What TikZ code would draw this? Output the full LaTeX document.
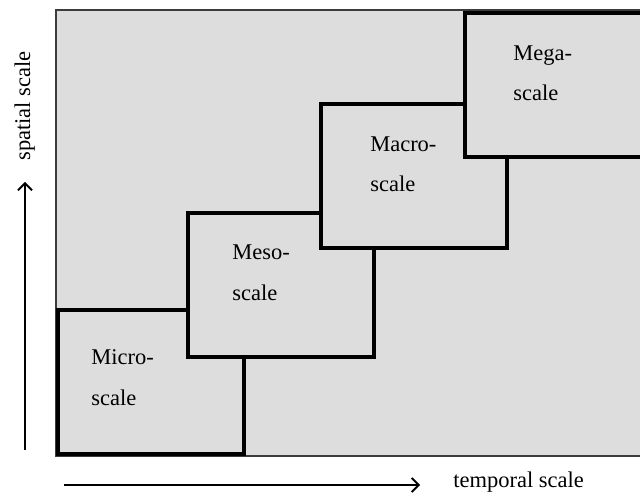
\documentclass[tikz,border=0pt]{standalone}
\usepackage{fontspec}
\setmainfont{Liberation Serif}
\usetikzlibrary{arrows.meta}
\definecolor{panelgray}{RGB}{221,221,221}
\definecolor{rimgray}{RGB}{60,60,60}

\begin{document}
\begin{tikzpicture}[font=\fontsize{16}{29}\selectfont, line join=miter,
	scalebox/.style={draw=black, line width=2.8pt, fill=panelgray, minimum width=4.65cm, minimum height=3.6cm, inner sep=0pt, outer sep=0pt, anchor=north west},
	scalelabel/.style={align=left, inner sep=0pt, anchor=base west},
	axis/.style={line width=1.1pt, -{Straight Barb[length=5pt, width=10pt, line width=1.3pt]}}]

	\useasboundingbox (0, 0) rectangle (16, 12.325);
	\clip (0, 0) rectangle (16, 12.325);

	% background panel
	\path[fill=panelgray, draw=rimgray, line width=1pt] (1.4, 0.925) rectangle (16.5, 12.075);

	% the four scales, each drawn over the previous one
	\node[scalebox] (micro) at (1.45, 4.575) {};
	\node[scalebox] (meso) at (4.7, 7.0) {};
	\node[scalebox] (macro) at (8.025, 9.725) {};
	\node[scalebox] (mega) at (11.625, 12.0) {};

	% base west sits on the second line
	\node[scalelabel] (microtext) at (2.275, 2.2) {Micro-\\scale};
	\node[scalelabel] (mesotext) at (5.8, 4.825) {Meso-\\scale};
	\node[scalelabel] (macrotext) at (9.25, 7.525) {Macro-\\scale};
	\node[scalelabel] (megatext) at (12.825, 9.8) {Mega-\\scale};

	% axes
	\coordinate (ybot) at (0.625, 1.075);
	\coordinate (ytop) at (0.625, 7.775);
	\coordinate (xleft) at (1.6, 0.2);
	\coordinate (xright) at (10.5, 0.2);
	\draw[axis] (ybot) -- (ytop);
	\draw[axis] (xleft) -- (xright);
	\node[rotate=90, anchor=base, inner sep=0pt] (ylabel) at (0.75, 9.675) {spatial scale};
	\node[anchor=base west, inner sep=0pt] (xlabel) at (11.325, 0.15) {temporal scale};
\end{tikzpicture}
\end{document}
